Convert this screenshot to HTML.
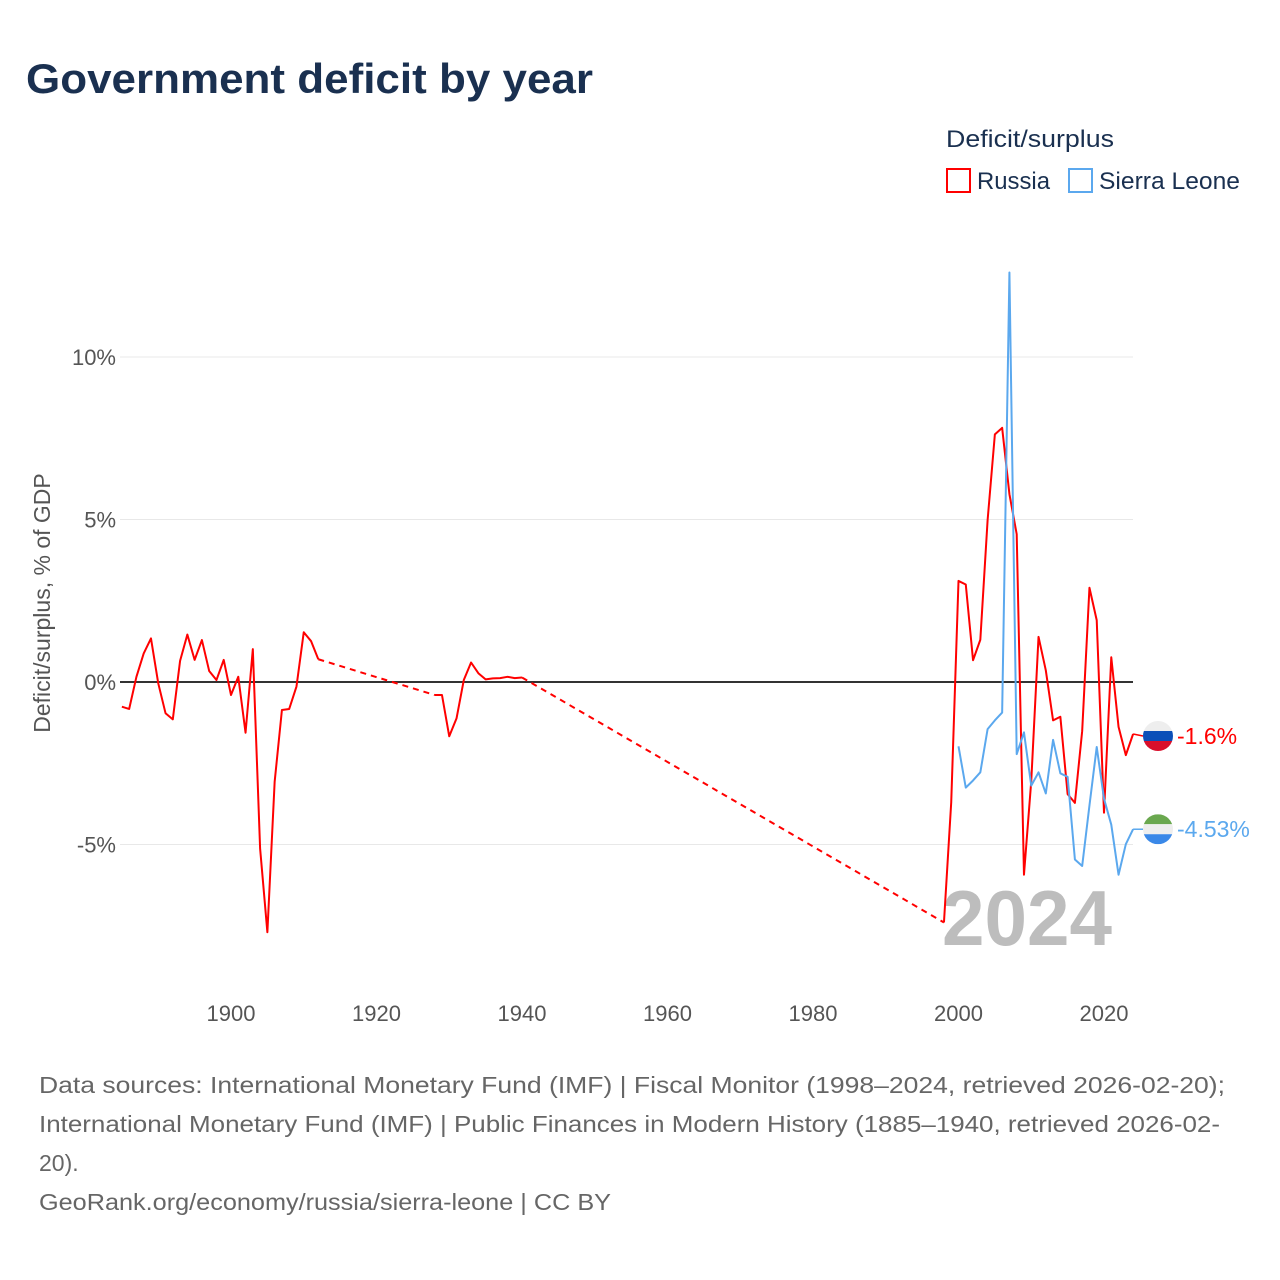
<!DOCTYPE html>
<html><head><meta charset="utf-8"><style>
html,body{margin:0;padding:0;background:#fff}
svg{display:block;font-family:"Liberation Sans",sans-serif}
</style></head><body>
<svg id="chart" width="1280" height="1280" viewBox="0 0 1280 1280">
<text x="26" y="93" font-size="42" font-weight="bold" fill="#1a3050" textLength="567" lengthAdjust="spacingAndGlyphs">Government deficit by year</text>
<g>
<text x="946" y="147" font-size="24" fill="#1a3050" textLength="168" lengthAdjust="spacingAndGlyphs">Deficit/surplus</text>
<rect x="947" y="169" width="23" height="23" fill="none" stroke="#f00" stroke-width="2"/>
<text x="977" y="189" font-size="24" fill="#1a3050" textLength="73" lengthAdjust="spacingAndGlyphs">Russia</text>
<rect x="1069" y="169" width="23" height="23" fill="none" stroke="#5ba8ee" stroke-width="2"/>
<text x="1099" y="189" font-size="24" fill="#1a3050" textLength="141" lengthAdjust="spacingAndGlyphs">Sierra Leone</text>
</g>
<text transform="translate(50,603) rotate(-90)" text-anchor="middle" font-size="23" fill="#555">Deficit/surplus, % of GDP</text>
<g id="grid"></g>
<text x="942" y="945" font-size="78" font-weight="bold" fill="#bdbdbd" textLength="170" lengthAdjust="spacingAndGlyphs">2024</text>
<g id="series"></g>
<g id="labels"></g>
<g font-size="23" fill="#666">
<text x="39" y="1093" textLength="1186" lengthAdjust="spacingAndGlyphs">Data sources: International Monetary Fund (IMF) | Fiscal Monitor (1998–2024, retrieved 2026-02-20);</text>
<text x="39" y="1132" textLength="1181" lengthAdjust="spacingAndGlyphs">International Monetary Fund (IMF) | Public Finances in Modern History (1885–1940, retrieved 2026-02-</text>
<text x="39" y="1171">20).</text>
<text x="39" y="1210" textLength="572" lengthAdjust="spacingAndGlyphs">GeoRank.org/economy/russia/sierra-leone | CC BY</text>
</g>
</svg>
<script>
const russiaYears = [1885,1886,1887,1888,1889,1890,1891,1892,1893,1894,1895,1896,1897,1898,1899,1900,1901,1902,1903,1904,1905,1906,1907,1908,1909,1910,1911,1912,
 1928,1929,1930,1931,1932,1933,1934,1935,1936,1937,1938,1939,1940,
 1998,1999,2000,2001,2002,2003,2004,2005,2006,2007,2008,2009,2010,2011,2012,2013,2014,2015,2016,2017,2018,2019,2020,2021,2022,2023,2024];
const russiaValues = [-0.76,-0.83,0.16,0.88,1.34,-0.04,-0.96,-1.15,0.65,1.46,0.68,1.29,0.34,0.06,0.68,-0.40,0.16,-1.56,1.01,-5.12,-7.7,-3.07,-0.86,-0.83,-0.14,1.53,1.26,0.70,
 -0.40,-0.40,-1.67,-1.12,0.06,0.60,0.27,0.08,0.11,0.12,0.16,0.12,0.14,
 -7.4,-3.7,3.11,3.0,0.67,1.30,4.98,7.62,7.82,5.78,4.55,-5.93,-3.05,1.39,0.36,-1.18,-1.07,-3.45,-3.72,-1.51,2.9,1.9,-4.02,0.76,-1.38,-2.25,-1.6];
const sierraYears = [2000,2001,2002,2003,2004,2005,2006,2007,2008,2009,2010,2011,2012,2013,2014,2015,2016,2017,2018,2019,2020,2021,2022,2023,2024];
const sierraValues = [-1.98,-3.25,-3.03,-2.78,-1.45,-1.18,-0.94,12.6,-2.22,-1.55,-3.19,-2.78,-3.43,-1.78,-2.81,-2.92,-5.46,-5.66,-3.8,-2.0,-3.59,-4.39,-5.93,-4.99,-4.53];
const yTicks = [-5,0,5,10];
const yTickLabels = ["-5%","0%","5%","10%"];
const xTicks = [1900,1920,1940,1960,1980,2000,2020];

const NS="http://www.w3.org/2000/svg";
const xs = yr => 231 + (yr-1900)*7.275;
const ys = v => 682 - v*32.5;
function mk(tag, attrs, parent){const e=document.createElementNS(NS,tag);for(const k in attrs)e.setAttribute(k,attrs[k]);parent.appendChild(e);return e;}
const grid=document.getElementById('grid'), series=document.getElementById('series'), labels=document.getElementById('labels');
yTicks.forEach((t,i)=>{
  const l=mk('line',{x1:120,x2:1133,y1:ys(t),y2:ys(t),stroke:t===0?'#333':'#e8e8e8','stroke-width':t===0?2:1},grid);
  
  
  const tx=mk('text',{x:116,y:ys(t)+8,'text-anchor':'end','font-size':22,fill:'#555'},grid);
  tx.textContent=yTickLabels[i];
  
  
});
xTicks.forEach(t=>{
  const tx=mk('text',{x:xs(t),y:1021,'text-anchor':'middle','font-size':22,fill:'#555'},grid);
  tx.textContent=t;
  
  
});
function drawSeries(years, vals, color, name){
  const g=mk('g',{},series);
  
  
  let seg=[], segs=[];
  for(let i=0;i<years.length;i++){
    if(i>0 && years[i]-years[i-1]>1){segs.push(seg);seg=[];}
    seg.push([xs(years[i]),ys(vals[i])]);
  }
  segs.push(seg);
  for(let s=0;s<segs.length;s++){
    const p=mk('polyline',{points:segs[s].map(q=>q.join(',')).join(' '),fill:'none',stroke:color,'stroke-width':2,'stroke-linejoin':'round'},g);
    
    
    if(s>0){
      const a=segs[s-1][segs[s-1].length-1], b=segs[s][0];
      const d=mk('line',{x1:a[0],y1:a[1],x2:b[0],y2:b[1],stroke:color,'stroke-width':2,'stroke-dasharray':'6,5'},g);
      
      
    }
  }
  return [xs(years[years.length-1]), ys(vals[vals.length-1]), vals[vals.length-1]];
}
const rEnd=drawSeries(russiaYears,russiaValues,'#f00','russia');
const sEnd=drawSeries(sierraYears,sierraValues,'#5ba8ee','sierra-leone');
function endLabel(end, color, name, stripes, txt){
  const cx=1158, cy=end[1]+(name==='russia'?2:0);
  const c=mk('line',{x1:end[0],y1:end[1],x2:cx-15,y2:cy,stroke:color,'stroke-width':1.5},labels);
  
  
  const g=mk('g',{},labels);
  
  
  const cid='clip-'+name;
  const cp=mk('clipPath',{id:cid},g); mk('circle',{cx:cx,cy:cy,r:15},cp);
  stripes.forEach((col,i)=>{mk('rect',{x:cx-15,y:cy-15+i*10,width:30,height:10,fill:col,'clip-path':'url(#'+cid+')'},g);});
  const t=mk('text',{x:1177,y:cy+8,'font-size':23,fill:color},labels);
  t.textContent=txt;
  
  
}
endLabel(rEnd,'#f00','russia',['#eeeeee','#0b4fb8','#d90f2b'],rEnd[2]+'%');
endLabel(sEnd,'#5ba8ee','sierra-leone',['#6aa84f','#eeeeee','#3a88e8'],sEnd[2]+'%');
</script>
</body></html>
